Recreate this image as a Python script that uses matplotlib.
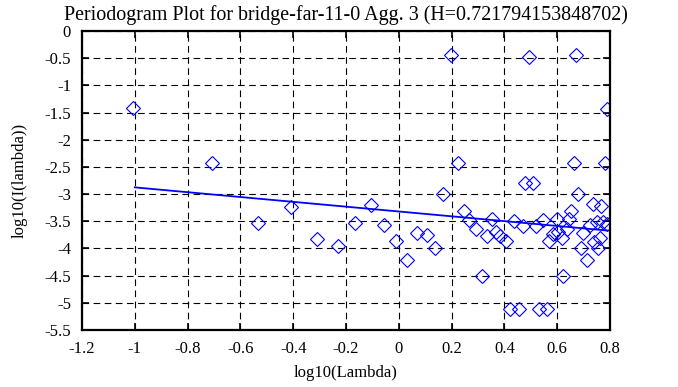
import numpy as np
import matplotlib
matplotlib.use("Agg")
import matplotlib.pyplot as plt

# periodogram points (log10 frequency, log10 power)
log_lambda = [-1.007, -0.708, -0.533, -0.407, -0.310, -0.232, -0.167, -0.106,
              -0.055, -0.009, 0.032, 0.068, 0.107, 0.137, 0.166, 0.196,
              0.224, 0.247, 0.266, 0.291, 0.314, 0.334, 0.353, 0.368,
              0.385, 0.406, 0.420, 0.438, 0.455, 0.469, 0.478, 0.494,
              0.507, 0.518, 0.531, 0.547, 0.561, 0.570, 0.583, 0.598,
              0.604, 0.617, 0.623, 0.636, 0.643, 0.652, 0.664, 0.671,
              0.680, 0.689, 0.699, 0.714, 0.724, 0.737, 0.739, 0.750,
              0.753, 0.762, 0.766, 0.775, 0.780, 0.790, 0.790]
log_power = [-1.42, -2.43, -3.53, -3.24, -3.83, -3.96, -3.53, -3.20,
             -3.56, -3.86, -4.21, -3.71, -3.75, -3.99, -3.00, -0.45,
             -2.43, -3.31, -3.48, -3.64, -4.50, -3.78, -3.46, -3.69,
             -3.78, -3.86, -5.12, -3.50, -5.12, -3.58, -2.79, -0.48,
             -2.79, -3.58, -5.12, -3.48, -5.12, -3.86, -3.74, -3.46,
             -3.69, -3.80, -4.50, -3.64, -3.46, -3.31, -2.42, -0.45,
             -3.00, -3.99, -3.72, -4.21, -3.57, -3.19, -3.88, -3.51,
             -3.99, -3.80, -3.21, -3.51, -2.43, -1.44, -3.55]

H = 0.721794153848702
fit_x = [-1.0, 0.79]
fit_intercept = -3.32
fit_slope = 1 - 2 * H

x_ticks = [-1.2, -1, -0.8, -0.6, -0.4, -0.2, 0, 0.2, 0.4, 0.6, 0.8]
x_labels = ["-1.2", "-1", "-0.8", "-0.6", "-0.4", "-0.2", "0", "0.2", "0.4", "0.6", "0.8"]
y_ticks = [0, -0.5, -1, -1.5, -2, -2.5, -3, -3.5, -4, -4.5, -5, -5.5]
y_labels = ["0", "-0.5", "-1", "-1.5", "-2", "-2.5", "-3", "-3.5", "-4", "-4.5", "-5", "-5.5"]

plt.rcParams['font.family'] = ['Liberation Serif', 'DejaVu Serif']
plt.rcParams['font.size'] = 12

fig = plt.figure(figsize=(6.78, 3.87), dpi=100)
ax = fig.add_axes([82 / 678, 1 - 330 / 387, 528 / 678, 299 / 387])

ax.plot(log_lambda, log_power, linestyle='none', marker='D', markersize=7,
        markerfacecolor='none', markeredgecolor='blue', markeredgewidth=0.8)
fx = np.array(fit_x)
ax.plot(fx, fit_intercept + fit_slope * fx, color='blue', linewidth=1.3)

ax.set_xlim(-1.2, 0.8)
ax.set_ylim(-5.5, 0)
ax.set_xticks(x_ticks)
ax.set_xticklabels(x_labels)
ax.set_yticks(y_ticks)
ax.set_yticklabels(y_labels)
ax.grid(True, color='black', linestyle=(0, (6, 4)), linewidth=0.8)
ax.tick_params(direction='in', length=5, width=1.2, top=True, right=True)
ax.tick_params(axis='x', pad=8)
ax.tick_params(axis='y', pad=8)
for s in ax.spines.values():
    s.set_linewidth(1.6)

ax.set_title('Periodogram Plot for bridge-far-11-0 Agg. 3 (H=0.721794153848702)', pad=8)
ax.set_xlabel('log10(Lambda)', labelpad=6)
ax.set_ylabel('log10(I(lambda))', labelpad=12)

fig.savefig('out.png', dpi=100)
